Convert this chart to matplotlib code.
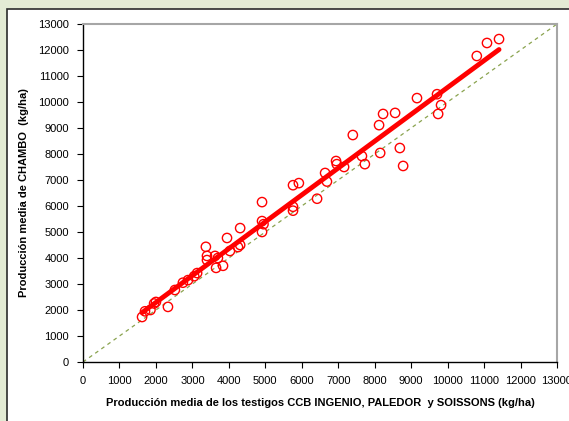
import matplotlib
matplotlib.use("Agg")
import matplotlib.pyplot as plt
import numpy as np
from matplotlib.patches import Rectangle

plt.rcParams["font.family"] = ["Liberation Sans", "DejaVu Sans"]

# media de los testigos (kg/ha)
testigos = [1620, 1700, 1850, 1950, 2000, 2330, 2520, 2740, 2880, 3050, 3130,
            3370, 3400, 3400, 3620, 3650, 3700, 3840, 4030, 3950, 4250, 4310,
            4310, 4910, 4910, 4910, 4950, 5760, 5760, 5760, 5920, 6420, 6640,
            6690, 6940, 6960, 7160, 7400, 7650, 7730, 8120, 8150, 8230, 8560,
            8690, 8780, 9160, 9710, 9740, 9820, 10800, 11080, 11410]
# produccion de CHAMBO (kg/ha)
chambo = [1730, 1950, 2000, 2250, 2310, 2120, 2770, 3050, 3150, 3300, 3420,
          4430, 4080, 3920, 4080, 3620, 4000, 3700, 4270, 4770, 4420, 4500,
          5150, 5000, 6150, 5420, 5300, 5820, 5970, 6800, 6880, 6280, 7270,
          6940, 7730, 7610, 7500, 8730, 7920, 7610, 9110, 8040, 9540, 9580,
          8230, 7540, 10150, 10300, 9540, 9880, 11770, 12270, 12420]
ticks = list(range(0, 13001, 1000))

x = np.array(testigos)
y = np.array(chambo)
slope, intercept = np.polyfit(x, y, 1)
xfit = np.array([x.min(), x.max()])

fig = plt.figure(figsize=(5.69, 4.21), dpi=100)
fig.patch.set_facecolor("#e3ebd4")
panel = Rectangle((7 / 569, -0.1), 1.1, 1.1 - 9 / 421,
                  transform=fig.transFigure, facecolor="white",
                  edgecolor="#2b2b2b", linewidth=1.2, zorder=-5)
fig.patches.append(panel)

ax = fig.add_axes([83 / 569, 59 / 421, 474 / 569, 338 / 421])
ax.plot([0, 13000], [0, 13000], linestyle=(0, (3, 3)), color="#8aa34f",
        linewidth=0.9, zorder=1)
ax.plot(xfit, slope * xfit + intercept, color="#ff0000", linewidth=3.5,
        solid_capstyle="round", zorder=2)
ax.scatter(x, y, s=45, facecolors="none", edgecolors="#ff0000",
           linewidths=1.0, zorder=3)

ax.set_xlim(0, 13000)
ax.set_ylim(0, 13000)
ax.set_xticks(ticks)
ax.set_yticks(ticks)
ax.tick_params(labelsize=8, length=4, width=0.8, color="black", pad=6)
for side in ["top", "right"]:
    ax.spines[side].set_color("#a6a6a6")
    ax.spines[side].set_linewidth(1.5)
for side in ["left", "bottom"]:
    ax.spines[side].set_color("black")
    ax.spines[side].set_linewidth(1.0)

ax.set_xlabel("Producción media de los testigos CCB INGENIO, PALEDOR  y SOISSONS (kg/ha)",
              fontsize=8, fontweight="bold", labelpad=9)
ax.set_ylabel("Producción media de CHAMBO  (kg/ha)", fontsize=8,
              fontweight="bold", labelpad=7)

fig.savefig("out.png", dpi=100, facecolor=fig.get_facecolor())
